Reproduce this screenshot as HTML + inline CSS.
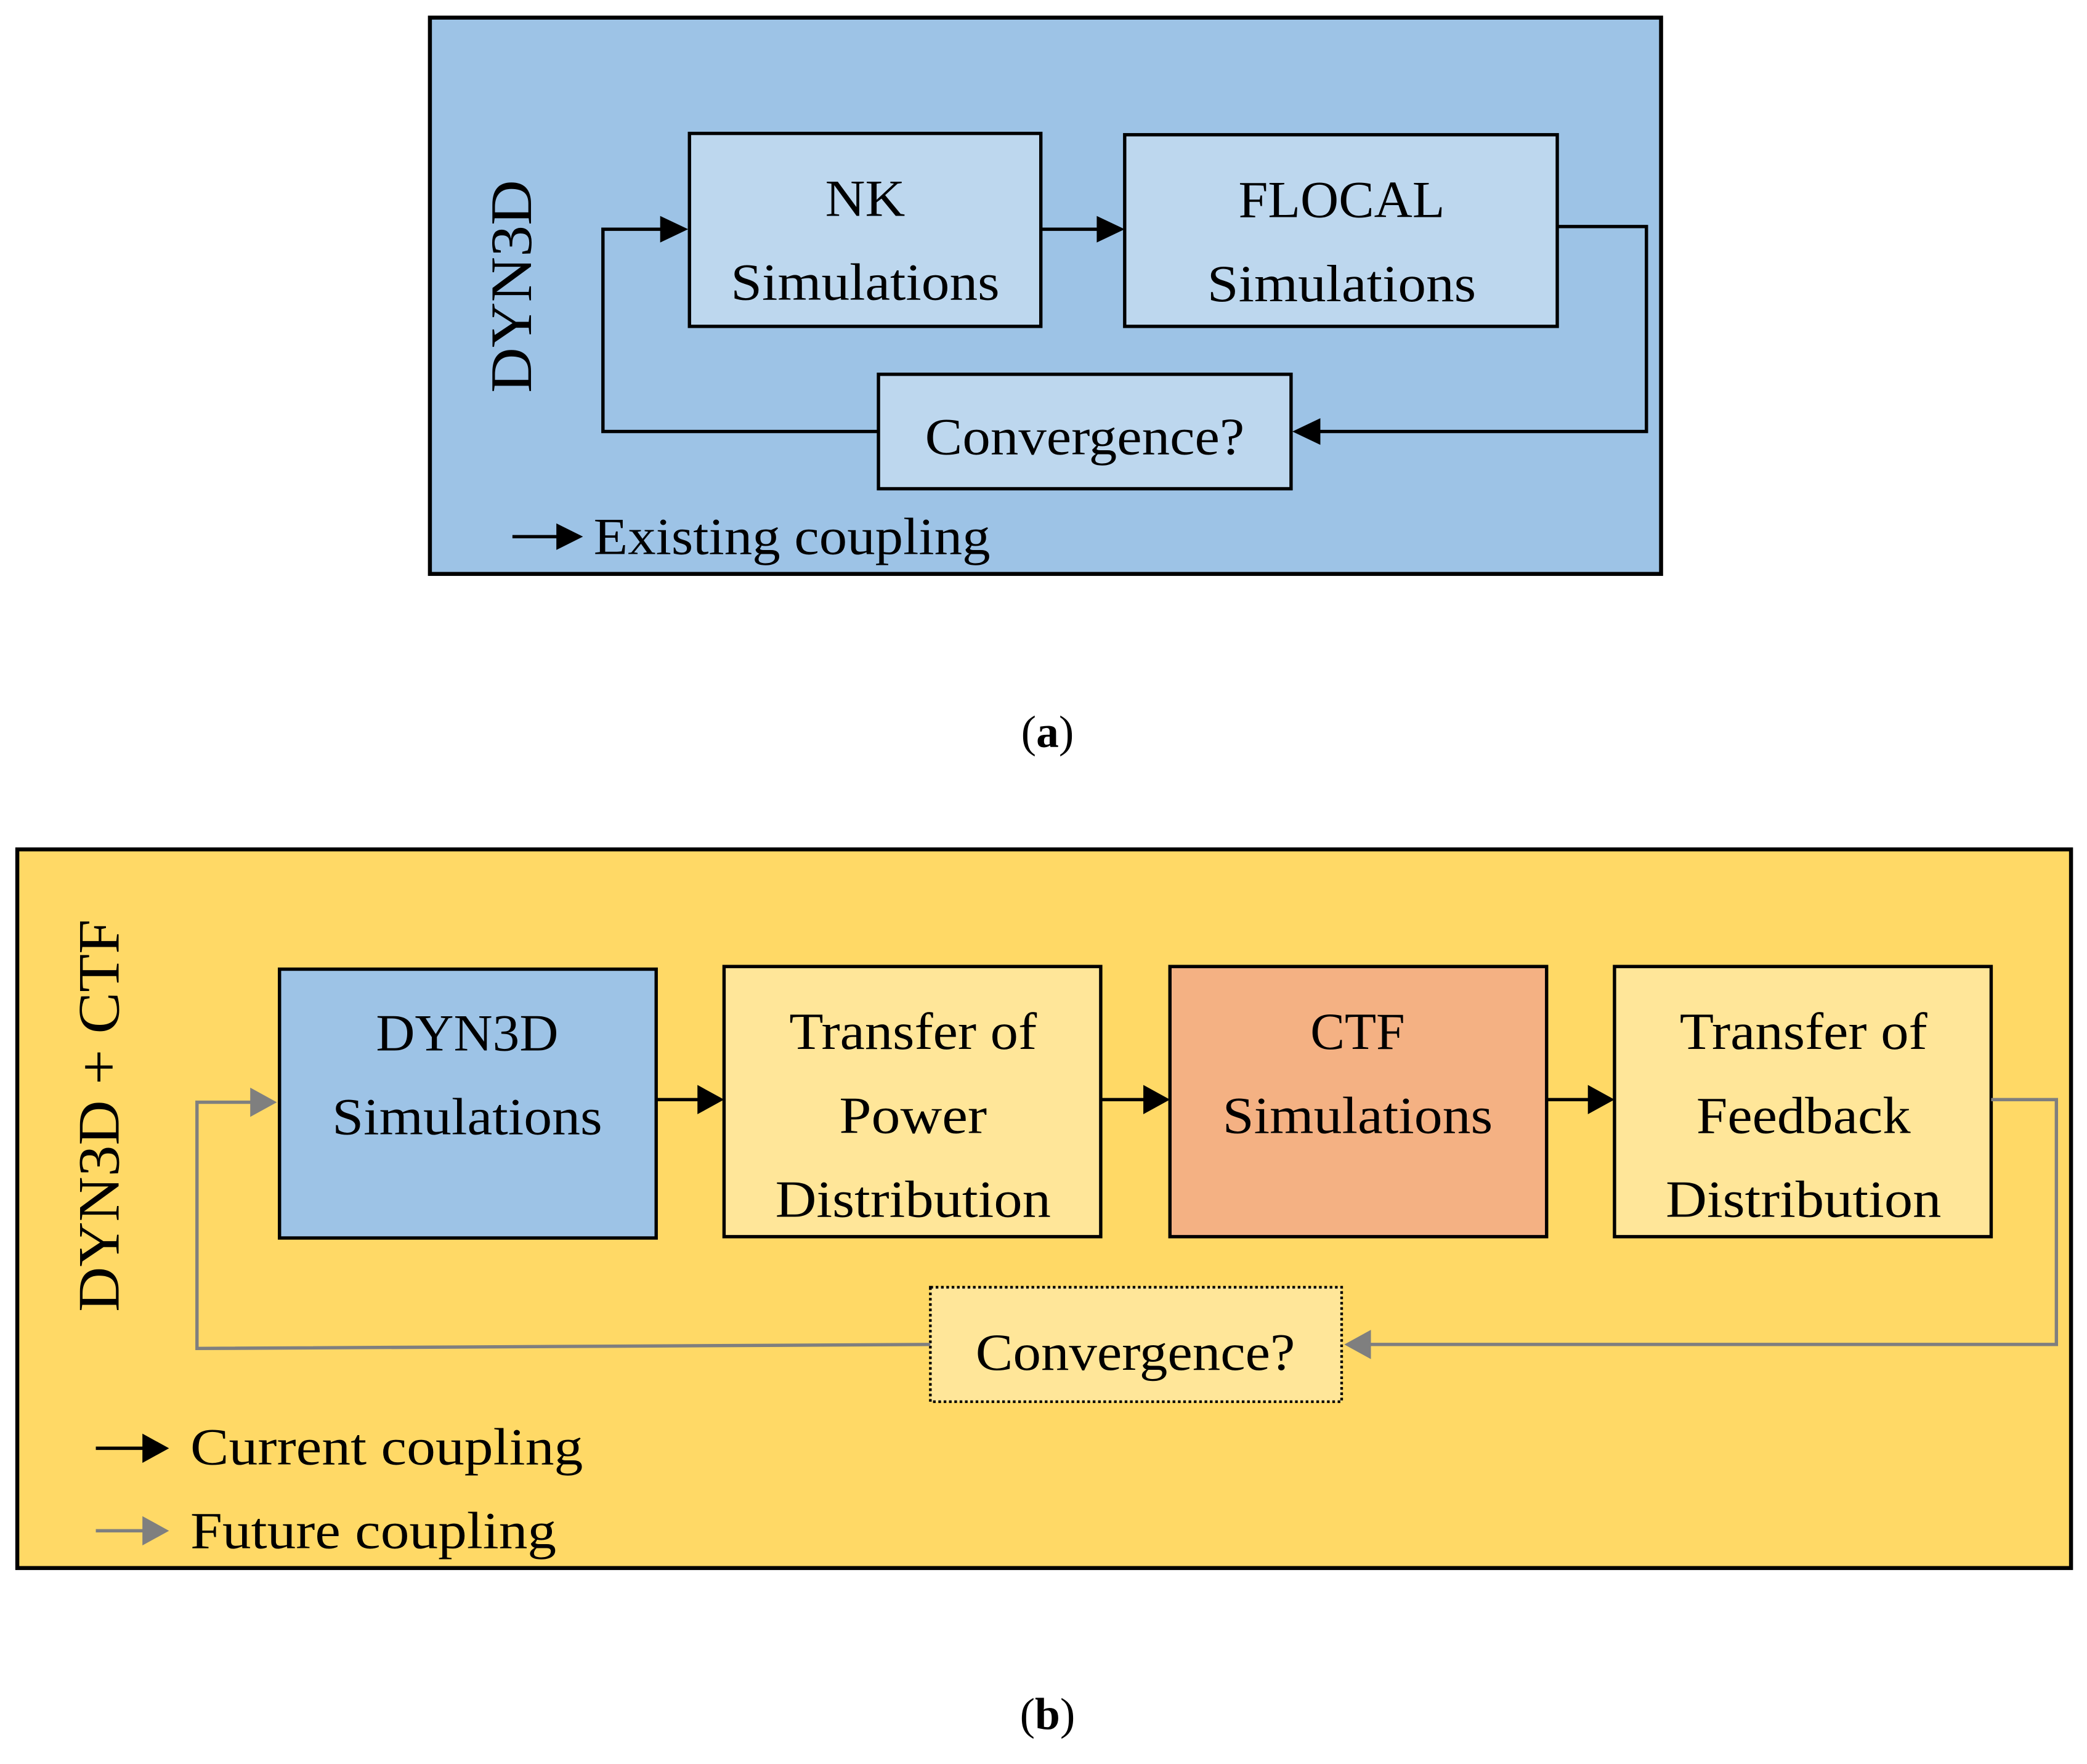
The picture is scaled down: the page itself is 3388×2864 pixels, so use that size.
<!DOCTYPE html>
<html><head><meta charset="utf-8"><style>html,body{margin:0;padding:0;background:#fff}svg{display:block}</style></head>
<body>
<svg width="3388" height="2864" viewBox="0 0 1568 1325" xmlns="http://www.w3.org/2000/svg" font-family="'Liberation Serif', serif">
<rect width="1568" height="1325" fill="#fff"/>
<!-- (a) -->
<rect x="323" y="13" width="925" height="418" fill="#9dc3e6" stroke="#000" stroke-width="3"/>
<rect x="518" y="100" width="264" height="145" fill="#bdd7ee" stroke="#000" stroke-width="2.5"/>
<rect x="845" y="101" width="325" height="144" fill="#bdd7ee" stroke="#000" stroke-width="2.5"/>
<rect x="660" y="281" width="310" height="86" fill="#bdd7ee" stroke="#000" stroke-width="2.5"/>
<g stroke="#000" stroke-width="2.5" fill="none">
<line x1="782" y1="172" x2="826" y2="172"/>
<polyline points="1170,170 1237,170 1237,324 990,324"/>
<polyline points="660,324 453,324 453,172 498,172"/>
<line x1="385" y1="403" x2="420" y2="403"/>
</g>
<g fill="#000">
<path d="M824,162L845,172L824,182z"/>
<path d="M992,314L971,324L992,334z"/>
<path d="M496,162L517,172L496,182z"/>
<path d="M418,393L438,403L418,413z"/>
</g>
<g font-size="39" text-anchor="middle" fill="#000" lengthAdjust="spacingAndGlyphs">
<text x="650" y="162" textLength="60" lengthAdjust="spacingAndGlyphs">NK</text>
<text x="650" y="225" textLength="202" lengthAdjust="spacingAndGlyphs">Simulations</text>
<text x="1008" y="163" textLength="155" lengthAdjust="spacingAndGlyphs">FLOCAL</text>
<text x="1008" y="226" textLength="202" lengthAdjust="spacingAndGlyphs">Simulations</text>
<text x="815" y="341" textLength="240" lengthAdjust="spacingAndGlyphs">Convergence?</text>
<text transform="translate(399,215) rotate(-90)" font-size="44" textLength="160" lengthAdjust="spacingAndGlyphs">DYN3D</text>
</g>
<text x="446" y="416" font-size="39" textLength="298" lengthAdjust="spacingAndGlyphs">Existing coupling</text>
<text x="787" y="561" font-size="34" text-anchor="middle">(<tspan font-weight="bold">a</tspan>)</text>
<!-- (b) -->
<rect x="13" y="638" width="1543" height="540" fill="#ffd966" stroke="#000" stroke-width="3"/>
<rect x="210" y="728" width="283" height="202" fill="#9dc3e6" stroke="#000" stroke-width="2.5"/>
<rect x="544" y="726" width="283" height="203" fill="#ffe699" stroke="#000" stroke-width="2.5"/>
<rect x="879" y="726" width="283" height="203" fill="#f4b183" stroke="#000" stroke-width="2.5"/>
<rect x="1213" y="726" width="283" height="203" fill="#ffe699" stroke="#000" stroke-width="2.5"/>
<rect x="699" y="967" width="309" height="86" fill="#ffe699" stroke="#000" stroke-width="2" stroke-dasharray="2,2"/>
<g stroke="#000" stroke-width="2.5">
<line x1="493" y1="826" x2="526" y2="826"/>
<line x1="827" y1="826" x2="861" y2="826"/>
<line x1="1162" y1="826" x2="1195" y2="826"/>
<line x1="72" y1="1088" x2="110" y2="1088"/>
</g>
<g fill="#000">
<path d="M524,815L544,826L524,837z"/>
<path d="M859,815L879,826L859,837z"/>
<path d="M1193,815L1213,826L1193,837z"/>
<path d="M107,1077L127,1088L107,1099z"/>
</g>
<g stroke="#7f7f7f" stroke-width="2.5" fill="none">
<polyline points="1496,826 1545,826 1545,1010 1028,1010"/>
<polyline points="699,1010 148,1013 148,828 190,828"/>
<line x1="72" y1="1150" x2="110" y2="1150"/>
</g>
<g fill="#7f7f7f">
<path d="M1030,999L1010,1010L1030,1021z"/>
<path d="M188,817L208,828L188,839z"/>
<path d="M107,1139L127,1150L107,1161z"/>
</g>
<g font-size="39" text-anchor="middle" fill="#000">
<text x="351" y="789" textLength="137" lengthAdjust="spacingAndGlyphs">DYN3D</text>
<text x="351" y="852" textLength="203" lengthAdjust="spacingAndGlyphs">Simulations</text>
<text x="686" y="788" textLength="186" lengthAdjust="spacingAndGlyphs">Transfer of</text>
<text x="686" y="851" textLength="111" lengthAdjust="spacingAndGlyphs">Power</text>
<text x="686" y="914" textLength="207" lengthAdjust="spacingAndGlyphs">Distribution</text>
<text x="1020" y="788" textLength="71" lengthAdjust="spacingAndGlyphs">CTF</text>
<text x="1020" y="851" textLength="203" lengthAdjust="spacingAndGlyphs">Simulations</text>
<text x="1355" y="788" textLength="186" lengthAdjust="spacingAndGlyphs">Transfer of</text>
<text x="1355" y="851" textLength="161" lengthAdjust="spacingAndGlyphs">Feedback</text>
<text x="1355" y="914" textLength="207" lengthAdjust="spacingAndGlyphs">Distribution</text>
<text x="853" y="1029" textLength="240" lengthAdjust="spacingAndGlyphs">Convergence?</text>
<text transform="translate(89,838) rotate(-90)" font-size="44" textLength="295" lengthAdjust="spacingAndGlyphs">DYN3D + CTF</text>
</g>
<text x="143" y="1100" font-size="39" textLength="295" lengthAdjust="spacingAndGlyphs">Current coupling</text>
<text x="143" y="1163" font-size="39" textLength="275" lengthAdjust="spacingAndGlyphs">Future coupling</text>
<text x="787" y="1299" font-size="34" text-anchor="middle">(<tspan font-weight="bold">b</tspan>)</text>
</svg>
</body></html>
